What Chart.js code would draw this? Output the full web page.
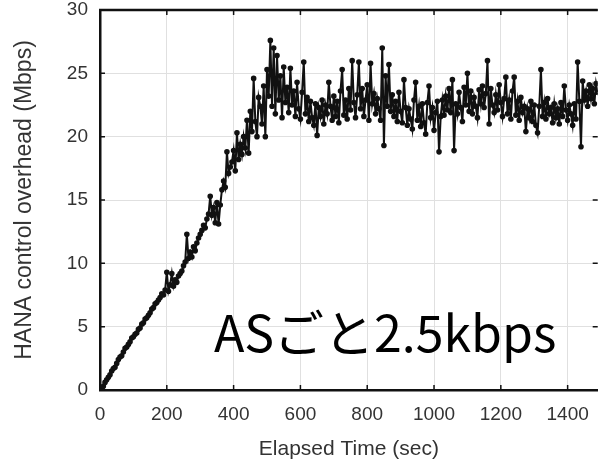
<!DOCTYPE html>
<html>
<head>
<meta charset="utf-8">
<script src="https://cdn.jsdelivr.net/npm/chart.js@4"></script>
<style>
    html, body { margin: 0; padding: 0; background: #fff; }
    #wrap { width: 602px; height: 459px; position: relative; }
</style>
</head>
<body>
<div id="wrap"><canvas id="overheadChart"></canvas></div>
<script>
// sampled every 5 sec, starting at 0
const sampleStep = 5;
const overhead = [
    0, 0.1, 0.3, 0.6, 0.8, 1.0, 1.2, 1.5, 1.7, 1.8,
    2.1, 2.4, 2.6, 2.7, 3.0, 3.3, 3.4, 3.6, 3.8, 4.1,
    4.2, 4.4, 4.5, 4.8, 4.9, 5.2, 5.3, 5.6, 5.7, 5.9,
    6.1, 6.4, 6.5, 6.8, 6.9, 7.1, 7.3, 7.6, 7.5, 7.9,
    9.3, 7.8, 8.3, 9.2, 8.2, 8.7, 8.5, 9.0, 9.2, 9.4,
    9.8, 10.1, 12.3, 10.4, 10.9, 10.5, 11.3, 11.0, 11.6, 12.0,
    12.3, 12.6, 13.0, 12.8, 13.5, 13.9, 15.3, 13.8, 14.4, 13.2,
    14.8, 13.1, 14.6, 15.8, 16.5, 16.0, 18.8, 17.1, 17.6, 18.0,
    18.9, 17.3, 20.3, 18.2, 19.4, 18.6, 20.0, 19.1, 21.3, 18.7,
    22.0, 20.4, 24.6, 21.2, 20.0, 23.1, 22.4, 21.0, 24.0, 20.0,
    25.3, 23.2, 27.6, 22.4, 27.0, 21.8, 26.4, 22.9, 24.8, 21.5,
    25.5, 22.7, 23.9, 21.9, 25.4, 22.5, 23.6, 21.6, 24.3, 22.2,
    21.4, 23.5, 25.9, 21.8, 23.1, 21.2, 22.8, 21.5, 20.9, 22.6,
    20.1, 22.3, 21.6, 22.9, 21.0, 22.5, 21.8, 24.3, 22.4, 21.3,
    23.2, 21.6, 22.8, 21.1, 23.6, 25.3, 21.7, 22.9, 21.4, 23.8,
    22.1, 26.0, 22.7, 21.5, 23.3, 25.9, 22.2, 23.8, 21.6, 22.9,
    24.1, 21.3, 25.8, 22.6, 23.4, 21.8, 23.0, 22.2, 21.3, 27.0,
    19.3, 24.8, 22.4, 25.7, 22.0, 23.3, 21.6, 22.8, 21.2, 23.5,
    22.0, 21.1, 24.5, 22.3, 20.9, 22.2, 21.4, 20.6, 22.9, 24.3,
    21.3, 22.4, 20.8, 22.6, 21.1, 20.2, 22.7, 24.0, 21.5, 22.3,
    20.5, 21.9, 22.8, 18.8, 21.6, 22.9, 21.7, 23.2, 22.1, 23.8,
    21.9, 24.5, 18.9, 22.6, 21.8, 23.5, 22.3, 21.2, 23.9, 22.5,
    25.0, 22.0, 23.6, 21.8, 23.1, 22.4, 21.5, 23.7, 22.6, 24.0,
    22.3, 23.4, 26.0, 21.0, 23.8, 22.5, 21.9, 23.3, 22.1, 24.1,
    22.7, 21.6, 23.0, 24.7, 21.8, 22.9, 21.4, 23.6, 24.7, 21.7,
    22.8, 21.3, 23.1, 21.9, 22.4, 20.4, 22.2, 21.5, 22.8, 21.2,
    22.5, 20.9, 20.3, 22.4, 25.3, 21.6, 22.7, 21.4, 23.0, 21.8,
    22.3, 21.1, 22.6, 21.5, 22.2, 21.0, 22.7, 21.6, 24.0, 22.1,
    21.3, 22.5, 21.8, 20.9, 22.6, 21.4, 25.9, 22.8, 19.2, 24.4,
    22.9, 23.6, 22.4, 24.1, 23.0, 23.8, 22.6, 24.2, 23.5
];
const xTicks = [0, 200, 400, 600, 800, 1000, 1200, 1400];
const yTicks = [0, 5, 10, 15, 20, 25, 30];
const noteText = "ASごと2.5kbps";

const points = overhead.map((v, i) => ({ x: i * sampleStep, y: v }));

// top border line, inward tick marks and the big note
const frameTicks = {
    id: "frameTicks",
    afterDraw(chart) {
        const { ctx, chartArea, scales } = chart;
        ctx.save();
        ctx.strokeStyle = "#111";
        ctx.lineWidth = 2.5;
        ctx.beginPath();
        ctx.moveTo(chartArea.left - 1, chartArea.top);
        ctx.lineTo(chartArea.right, chartArea.top);
        ctx.stroke();

        ctx.lineWidth = 1.5;
        ctx.beginPath();
        xTicks.forEach(t => {
            const px = scales.x.getPixelForValue(t);
            ctx.moveTo(px, chartArea.bottom);
            ctx.lineTo(px, chartArea.bottom - 5);
            ctx.moveTo(px, chartArea.top);
            ctx.lineTo(px, chartArea.top + 5);
        });
        yTicks.forEach(t => {
            const py = scales.y.getPixelForValue(t);
            ctx.moveTo(chartArea.left, py);
            ctx.lineTo(chartArea.left + 5, py);
            ctx.moveTo(chartArea.right, py);
            ctx.lineTo(chartArea.right - 5, py);
        });
        ctx.stroke();

        ctx.fillStyle = "#000";
        ctx.font = "50px 'Noto Sans CJK JP'";
        ctx.textBaseline = "alphabetic";
        ctx.fillText(noteText, scales.x.getPixelForValue(341), scales.y.getPixelForValue(3.0));
        ctx.restore();
    }
};

new Chart(document.getElementById("overheadChart"), {
    type: "line",
    data: {
        datasets: [{
            data: points,
            borderColor: "#111",
            backgroundColor: "#111",
            borderWidth: 2,
            pointRadius: 1.8,
            pointHoverRadius: 1.8,
            tension: 0
        }]
    },
    options: {
        responsive: true,
        maintainAspectRatio: false,
        animation: false,
        layout: { padding: 0 },
        plugins: {
            legend: { display: false },
            tooltip: { enabled: false }
        },
        scales: {
            x: {
                type: "linear",
                min: 0,
                max: 1490,
                afterBuildTicks: scale => {
                    scale.ticks = xTicks.map(v => ({ value: v }));
                },
                afterFit: scale => { scale.height = 69; },
                ticks: {
                    padding: 13,
                    color: "#333",
                    font: { family: "Liberation Sans", size: 19 },
                    callback: value => String(value)
                },
                grid: { color: "#e0e0e0", lineWidth: 1, drawTicks: false },
                border: { color: "#111", width: 2.5 },
                title: {
                    display: true,
                    text: "Elapsed Time (sec)",
                    color: "#333",
                    font: { family: "Liberation Sans", size: 21, lineHeight: 1 },
                    padding: { top: 0, bottom: -1 }
                }
            },
            y: {
                min: 0,
                max: 30,
                afterBuildTicks: scale => {
                    scale.ticks = yTicks.map(v => ({ value: v }));
                },
                afterFit: scale => {
                    scale.width = 100;
                    scale.paddingTop = 10;
                    scale.paddingBottom = 0;
                },
                ticks: {
                    padding: 12,
                    color: "#333",
                    font: { family: "Liberation Sans", size: 19 }
                },
                grid: { color: "#e0e0e0", lineWidth: 1, drawTicks: false },
                border: { color: "#111", width: 2.5 },
                title: {
                    display: true,
                    text: "HANA control overhead (Mbps)",
                    color: "#333",
                    font: { family: "Liberation Sans", size: 23 },
                    padding: { bottom: 0, top: 11 }
                }
            }
        }
    },
    plugins: [frameTicks]
});
</script>
</body>
</html>
